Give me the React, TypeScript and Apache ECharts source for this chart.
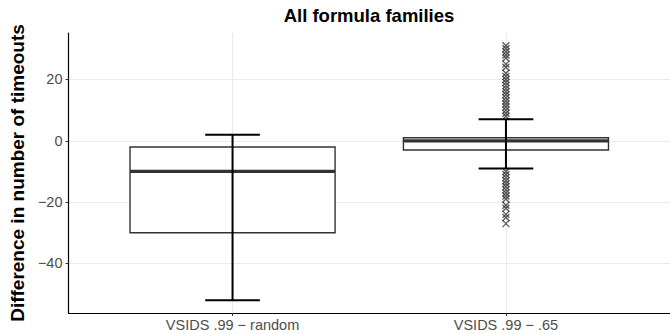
import React, { useEffect, useRef } from "react";
import * as echarts from "echarts";

const categories = ["VSIDS .99 − random", "VSIDS .99 − .65"];
const categoryPositions = [1, 2];
const whiskerLow = [-52, -9];
const q1 = [-30, -3];
const median = [-10, 0];
const q3 = [-2, 1];
const whiskerHigh = [2, 7];
const outliersHigh = [8, 9, 10, 11, 12, 13, 14, 15, 16, 17, 18, 19, 20, 21, 22, 24, 25, 27, 28, 29, 30, 31];
const outliersLow = [-10, -11, -12, -13, -14, -15, -16, -17, -18, -19, -21, -22, -24, -25, -27];
const outlierCategory = [2];
const yTicks = [-40, -20, 0, 20];

const FONT = "'Liberation Sans', Arial, Helvetica, sans-serif";

export default function App() {
  const ref = useRef<HTMLDivElement>(null);
  useEffect(() => {
    if (!ref.current) return;
    const chart = echarts.init(ref.current, undefined, { renderer: "svg" });

    const boxData = categoryPositions.map((p, i) => [p, whiskerLow[i], q1[i], median[i], q3[i], whiskerHigh[i]]);
    const outlierData: number[][] = [];
    outlierCategory.forEach((c) => {
      outliersHigh.forEach((v) => outlierData.push([c, v]));
      outliersLow.forEach((v) => outlierData.push([c, v]));
    });

    const boxHalf = 0.375;
    const capHalf = 0.1;

    chart.setOption({
      animation: false,
      textStyle: { fontFamily: FONT },
      graphic: [
        {
          type: "text",
          x: 369,
          y: 15,
          style: {
            text: "All formula families",
            font: `bold 18.5px ${FONT}`,
            fill: "#000",
            align: "center",
            verticalAlign: "middle",
          },
        },
      ],
      grid: { left: 67, right: 0, top: 33, bottom: 21 },
      xAxis: {
        type: "value",
        min: 0.4,
        max: 2.6,
        axisLine: { show: true, onZero: false, lineStyle: { color: "#000", width: 1.2 } },
        axisTick: { show: true, length: 3, customValues: categoryPositions, lineStyle: { color: "#333", width: 1 } },
        axisLabel: {
          customValues: categoryPositions,
          formatter: (v: number) => {
            const idx = categoryPositions.indexOf(Math.round(v));
            return idx >= 0 ? categories[idx] : "";
          },
          color: "#4d4d4d",
          fontSize: 14.5,
          fontFamily: FONT,
          margin: 4,
        },
        splitLine: { show: true, lineStyle: { color: "#ebebeb", width: 1.2 } },
      },
      yAxis: {
        type: "value",
        min: -56.15,
        max: 35.15,
        name: "Difference in number of timeouts",
        nameLocation: "middle",
        nameGap: 37,
        nameRotate: 90,
        nameTextStyle: { fontSize: 19, fontWeight: "bold", color: "#000", fontFamily: FONT },
        axisLine: { show: true, onZero: false, lineStyle: { color: "#000", width: 1.2 } },
        axisTick: { show: true, length: 3, customValues: yTicks, lineStyle: { color: "#333", width: 1 } },
        axisLabel: {
          customValues: yTicks,
          formatter: (v: number) => (v < 0 ? "−" + Math.abs(v) : String(v)),
          color: "#4d4d4d",
          fontSize: 14.5,
          fontFamily: FONT,
          margin: 6,
        },
        splitLine: { show: true, lineStyle: { color: "#ebebeb", width: 1.2 } },
      },
      series: [
        {
          type: "custom",
          z: 2,
          data: boxData,
          encode: { x: 0, y: [1, 2, 3, 4, 5] },
          renderItem: (params: any, api: any) => {
            const x = api.value(0);
            const lo = api.value(1);
            const a = api.value(2);
            const m = api.value(3);
            const b = api.value(4);
            const hi = api.value(5);
            const tl = api.coord([x - boxHalf, b]);
            const br = api.coord([x + boxHalf, a]);
            const ml = api.coord([x - boxHalf, m]);
            const mr = api.coord([x + boxHalf, m]);
            const wt = api.coord([x, hi]);
            const wb = api.coord([x, lo]);
            const cl = api.coord([x - capHalf, hi]);
            const cr = api.coord([x + capHalf, hi]);
            const cl2 = api.coord([x - capHalf, lo]);
            const cr2 = api.coord([x + capHalf, lo]);
            return {
              type: "group",
              children: [
                {
                  type: "rect",
                  shape: { x: tl[0], y: tl[1], width: br[0] - tl[0], height: br[1] - tl[1] },
                  style: { fill: "#fff", stroke: "#333", lineWidth: 1.4 },
                },
                {
                  type: "line",
                  shape: { x1: ml[0], y1: ml[1], x2: mr[0], y2: mr[1] },
                  style: { stroke: "#333", lineWidth: 3.2 },
                },
                {
                  type: "line",
                  shape: { x1: wt[0], y1: wt[1], x2: wb[0], y2: wb[1] },
                  style: { stroke: "#000", lineWidth: 2 },
                  z2: 10,
                },
                {
                  type: "line",
                  shape: { x1: cl[0], y1: cl[1], x2: cr[0], y2: cr[1] },
                  style: { stroke: "#000", lineWidth: 2 },
                  z2: 10,
                },
                {
                  type: "line",
                  shape: { x1: cl2[0], y1: cl2[1], x2: cr2[0], y2: cr2[1] },
                  style: { stroke: "#000", lineWidth: 2 },
                  z2: 10,
                },
              ],
            };
          },
        },
        {
          type: "scatter",
          z: 1,
          data: outlierData,
          symbol: "path://M0,0L10,10M10,0L0,10",
          symbolSize: 7,
          itemStyle: { color: "transparent", borderColor: "#333", borderWidth: 1.3 },
        },
      ],
    });
    return () => chart.dispose();
  }, []);
  return <div ref={ref} style={{ position: "absolute", left: 0, top: 0, width: 670, height: 334 }} />;
}
